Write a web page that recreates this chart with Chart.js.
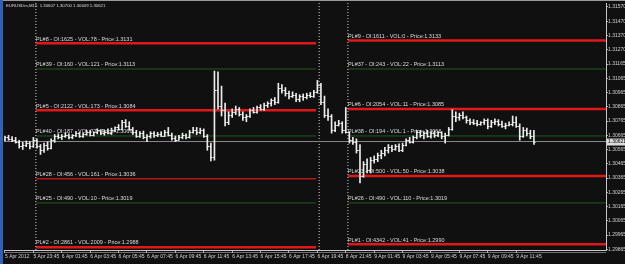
<!DOCTYPE html>
<html>
<head>
<meta charset="utf-8">
<script src="https://cdn.jsdelivr.net/npm/chart.js@4.4.1/dist/chart.umd.min.js"></script>
<style>
  html, body { margin: 0; padding: 0; background: #101010; }
  #wrap { position: relative; width: 625px; height: 264px; }
</style>
</head>
<body>
<div id="wrap"><canvas id="chart" width="625" height="264"></canvas></div>
<script>
// EURUSDm M15 bars
const opens = [
  1.30640,1.30650,1.30640,1.30635,1.30620,1.30590,1.30600,1.30610,1.30590,1.30630,
  1.30590,1.30560,1.30600,1.30575,1.30630,1.30660,1.30650,1.30660,1.30670,1.30650,
  1.30665,1.30680,1.30660,1.30675,1.30690,1.30670,1.30685,1.30700,1.30680,1.30690,
  1.30680,1.30705,1.30720,1.30710,1.30755,1.30730,1.30710,1.30685,1.30660,1.30680,
  1.30650,1.30660,1.30680,1.30665,1.30675,1.30660,1.30690,1.30670,1.30645,1.30635,
  1.30655,1.30670,1.30650,1.30690,1.30700,1.30690,1.30705,1.30660,1.30590,1.30510,
  1.30980,1.30870,1.30840,1.30760,1.30810,1.30830,1.30850,1.30815,1.30790,1.30800,
  1.30840,1.30830,1.30860,1.30850,1.30880,1.30890,1.30910,1.30900,1.31000,1.30980,
  1.30960,1.30940,1.30950,1.30920,1.30940,1.30930,1.30950,1.30940,1.30970,1.31020,
  1.30900,1.30810,1.30800,1.30700,1.30740,1.30750,1.30700,1.30690,1.30630,1.30620,
  1.30560,1.30380,1.30460,1.30420,1.30490,1.30500,1.30530,1.30540,1.30560,1.30580,
  1.30570,1.30590,1.30560,1.30600,1.30630,1.30620,1.30650,1.30690,1.30670,1.30680,
  1.30660,1.30680,1.30670,1.30685,1.30660,1.30670,1.30710,1.30800,1.30790,1.30810,
  1.30795,1.30770,1.30760,1.30750,1.30745,1.30755,1.30770,1.30730,1.30760,1.30765,
  1.30745,1.30730,1.30740,1.30745,1.30760,1.30730,1.30660,1.30700,1.30680,1.30660
];
const highs = [
  1.30660,1.30665,1.30655,1.30650,1.30630,1.30615,1.30625,1.30620,1.30650,1.30640,
  1.30600,1.30610,1.30620,1.30640,1.30670,1.30675,1.30670,1.30680,1.30675,1.30670,
  1.30690,1.30685,1.30680,1.30700,1.30700,1.30690,1.30710,1.30705,1.30700,1.30710,
  1.30715,1.30725,1.30740,1.30770,1.30775,1.30760,1.30720,1.30700,1.30690,1.30695,
  1.30670,1.30690,1.30690,1.30685,1.30690,1.30700,1.30720,1.30680,1.30660,1.30665,
  1.30680,1.30675,1.30700,1.30720,1.30720,1.30715,1.30710,1.30670,1.30610,1.31115,
  1.31110,1.31010,1.30890,1.30830,1.30850,1.30870,1.30860,1.30830,1.30810,1.30850,
  1.30860,1.30870,1.30880,1.30890,1.30900,1.30920,1.30930,1.31030,1.31020,1.31000,
  1.30975,1.30970,1.30960,1.30950,1.30955,1.30960,1.30965,1.30980,1.31050,1.31030,
  1.30940,1.30850,1.30810,1.30760,1.30770,1.30760,1.30860,1.30690,1.30650,1.30640,
  1.30600,1.30480,1.30500,1.30510,1.30520,1.30540,1.30560,1.30580,1.30600,1.30595,
  1.30600,1.30605,1.30610,1.30640,1.30650,1.30660,1.30700,1.30700,1.30690,1.30700,
  1.30690,1.30695,1.30690,1.30690,1.30680,1.30720,1.30845,1.30830,1.30820,1.30830,
  1.30800,1.30780,1.30775,1.30770,1.30760,1.30780,1.30780,1.30770,1.30780,1.30775,
  1.30765,1.30750,1.30760,1.30800,1.30795,1.30745,1.30720,1.30715,1.30700,1.30700
];
const lows = [
  1.30625,1.30630,1.30620,1.30610,1.30575,1.30565,1.30585,1.30570,1.30580,1.30575,
  1.30530,1.30545,1.30560,1.30570,1.30615,1.30640,1.30635,1.30650,1.30640,1.30640,
  1.30655,1.30650,1.30650,1.30665,1.30660,1.30660,1.30675,1.30670,1.30665,1.30675,
  1.30670,1.30690,1.30700,1.30705,1.30720,1.30700,1.30670,1.30650,1.30650,1.30640,
  1.30620,1.30645,1.30650,1.30655,1.30655,1.30655,1.30660,1.30630,1.30620,1.30630,
  1.30640,1.30640,1.30645,1.30680,1.30670,1.30675,1.30650,1.30560,1.30485,1.30490,
  1.30850,1.30800,1.30730,1.30740,1.30790,1.30810,1.30800,1.30770,1.30760,1.30790,
  1.30820,1.30820,1.30840,1.30840,1.30860,1.30870,1.30880,1.30890,1.30960,1.30940,
  1.30920,1.30930,1.30900,1.30900,1.30910,1.30920,1.30930,1.30930,1.30960,1.30880,
  1.30790,1.30770,1.30680,1.30690,1.30730,1.30680,1.30680,1.30610,1.30600,1.30540,
  1.30330,1.30370,1.30400,1.30400,1.30470,1.30480,1.30500,1.30520,1.30540,1.30550,
  1.30560,1.30550,1.30550,1.30590,1.30610,1.30610,1.30640,1.30650,1.30640,1.30650,
  1.30645,1.30650,1.30655,1.30640,1.30610,1.30660,1.30700,1.30760,1.30770,1.30780,
  1.30750,1.30740,1.30740,1.30730,1.30735,1.30740,1.30710,1.30720,1.30740,1.30730,
  1.30720,1.30710,1.30730,1.30730,1.30720,1.30630,1.30650,1.30660,1.30640,1.30600
];
const closes = [
  1.30650,1.30640,1.30635,1.30620,1.30590,1.30600,1.30610,1.30590,1.30630,1.30590,
  1.30560,1.30600,1.30575,1.30630,1.30660,1.30650,1.30660,1.30670,1.30650,1.30665,
  1.30680,1.30660,1.30675,1.30690,1.30670,1.30685,1.30700,1.30680,1.30690,1.30680,
  1.30705,1.30720,1.30710,1.30755,1.30730,1.30710,1.30685,1.30660,1.30680,1.30650,
  1.30660,1.30680,1.30665,1.30675,1.30660,1.30690,1.30670,1.30645,1.30635,1.30655,
  1.30670,1.30650,1.30690,1.30700,1.30690,1.30705,1.30660,1.30590,1.30510,1.30980,
  1.30870,1.30840,1.30760,1.30810,1.30830,1.30850,1.30815,1.30790,1.30800,1.30840,
  1.30830,1.30860,1.30850,1.30880,1.30890,1.30910,1.30900,1.31000,1.30980,1.30960,
  1.30940,1.30950,1.30920,1.30940,1.30930,1.30950,1.30940,1.30970,1.31020,1.30900,
  1.30810,1.30800,1.30700,1.30740,1.30750,1.30700,1.30690,1.30630,1.30620,1.30560,
  1.30380,1.30460,1.30420,1.30490,1.30500,1.30530,1.30540,1.30560,1.30580,1.30570,
  1.30590,1.30560,1.30600,1.30630,1.30620,1.30650,1.30690,1.30670,1.30680,1.30660,
  1.30680,1.30670,1.30685,1.30660,1.30670,1.30710,1.30800,1.30790,1.30810,1.30795,
  1.30770,1.30760,1.30750,1.30745,1.30755,1.30770,1.30730,1.30760,1.30765,1.30745,
  1.30730,1.30740,1.30745,1.30760,1.30730,1.30660,1.30700,1.30680,1.30660,1.30621
];

// time axis (a label every 8 bars)
const timeTickIdx = [0, 8, 16, 24, 32, 40, 48, 56, 64, 72, 80, 88, 96, 104, 112, 120, 128, 136, 144];
const timeLabels = ['5 Apr 2012', '5 Apr 23:45', '6 Apr 01:45', '6 Apr 03:45', '6 Apr 05:45',
  '6 Apr 07:45', '6 Apr 09:45', '6 Apr 11:45', '6 Apr 13:45', '6 Apr 15:45', '6 Apr 17:45',
  '6 Apr 19:45', '8 Apr 21:45', '9 Apr 01:45', '9 Apr 03:45', '9 Apr 05:45', '9 Apr 07:45',
  '9 Apr 09:45', '9 Apr 11:45'];

// price axis
const priceTicks = [1.31565, 1.31465, 1.31365, 1.31265, 1.31165, 1.31065, 1.30965, 1.30865, 1.30765,
  1.30665, 1.30565, 1.30465, 1.30365, 1.30265, 1.30165, 1.30065, 1.29965, 1.29865];
const priceLabels = ['1.31570', '1.31470', '1.31370', '1.31270', '1.31165', '1.31065', '1.30965', '1.30865',
  '1.30765', '1.30665', '1.30565', '1.30465', '1.30365', '1.30265', '1.30165', '1.30065', '1.29965', '1.29865'];

// PL levels, left block (Friday) and right block (Monday)
const leftLevels = [1.3131, 1.3113, 1.3084, 1.3066, 1.3036, 1.3019, 1.2988];
const leftTexts = [
  'PL#8 - OI:1625 - VOL:78 - Price:1.3131',
  'PL#39 - OI:160 - VOL:121 - Price:1.3113',
  'PL#5 - OI:2122 - VOL:173 - Price:1.3084',
  'PL#40 - OI:187 - VOL:77 - Price:1.3066',
  'PL#28 - OI:456 - VOL:161 - Price:1.3036',
  'PL#25 - OI:490 - VOL:10 - Price:1.3019',
  'PL#2 - OI:2861 - VOL:2009 - Price:1.2988'
];
const leftKinds = ['red', 'green', 'red', 'green', 'redThin', 'green', 'red'];
const rightLevels = [1.3133, 1.3113, 1.3085, 1.3066, 1.3038, 1.3019, 1.2990];
const rightTexts = [
  'PL#9 - OI:1611 - VOL:0 - Price:1.3133',
  'PL#37 - OI:243 - VOL:22 - Price:1.3113',
  'PL#6 - OI:2054 - VOL:11 - Price:1.3085',
  'PL#38 - OI:194 - VOL:1 - Price:1.3066',
  'PL#23 - OI:500 - VOL:50 - Price:1.3038',
  'PL#26 - OI:490 - VOL:110 - Price:1.3019',
  'PL#1 - OI:4342 - VOL:41 - Price:1.2990'
];
const rightKinds = ['red', 'green', 'red', 'green', 'red', 'green', 'red'];

const separators = [8.7, 88.5, 96.6];
const bidPrice = 1.30621;
const headerText = 'EURUSDm,M15  1.30607 1.30700 1.30609 1.30621';

// view window
const X_MIN = -0.28, X_MAX = 169.3;
const Y_MIN = 1.29860, Y_MAX = 1.31593;
const LEFT_FROM = 8.7, LEFT_TO = 87.6, RIGHT_FROM = 96.6, RIGHT_TO = X_MAX;

const BAR_COLOR = '#ececec';
const FONT = 'Liberation Sans, Arial, sans-serif';
const styles = {
  red: { color: '#e01818', width: 2.5 },
  redThin: { color: '#b81616', width: 1.5 },
  green: { color: '#1c5e1c', width: 1 }
};

const datasets = [];
datasets.push({
  type: 'bar',
  data: lows.map((l, i) => ({ x: i, y: [l, highs[i]] })),
  backgroundColor: BAR_COLOR,
  barThickness: 1,
  borderWidth: 0,
  order: 0
});
function levelSet(from, to, y, kind) {
  return {
    type: 'line',
    data: [{ x: from, y: y }, { x: to, y: y }],
    borderColor: styles[kind].color,
    borderWidth: styles[kind].width,
    pointRadius: 0,
    order: 2
  };
}
leftLevels.forEach((v, i) => datasets.push(levelSet(LEFT_FROM, LEFT_TO, v, leftKinds[i])));
rightLevels.forEach((v, i) => datasets.push(levelSet(RIGHT_FROM, RIGHT_TO, v, rightKinds[i])));
// bid line
datasets.push({
  type: 'line',
  data: [{ x: X_MIN, y: bidPrice }, { x: X_MAX, y: bidPrice }],
  borderColor: '#8a8a8a', borderWidth: 1, pointRadius: 0, order: 1
});
// dotted separators
separators.forEach(s => datasets.push({
  type: 'line',
  data: [{ x: s, y: Y_MIN }, { x: s, y: Y_MAX }],
  borderColor: '#d0d0d0', borderWidth: 1, borderDash: [1, 2], pointRadius: 0, order: 1
}));

const background = {
  id: 'background',
  beforeDraw(chart) {
    const { ctx, width, height } = chart;
    ctx.save();
    ctx.fillStyle = '#101010';
    ctx.fillRect(0, 0, width, height);
    ctx.fillStyle = '#2f62b8';
    ctx.fillRect(0, 0, 3, height);
    ctx.fillStyle = '#9a9a9a';
    ctx.fillRect(3, 0, width - 3, 1);
    ctx.fillStyle = '#707070';
    ctx.fillRect(4, 252, 602, 1);
    ctx.restore();
  }
};

const ohlcTicks = {
  id: 'ohlcTicks',
  afterDatasetsDraw(chart) {
    const { ctx, chartArea } = chart;
    const y = chart.scales.y;
    const meta = chart.getDatasetMeta(0);
    ctx.save();
    ctx.beginPath();
    ctx.rect(chartArea.left, chartArea.top, chartArea.right - chartArea.left, chartArea.bottom - chartArea.top);
    ctx.clip();
    ctx.strokeStyle = BAR_COLOR;
    ctx.lineWidth = 1;
    ctx.beginPath();
    meta.data.forEach((bar, i) => {
      const yo = Math.round(y.getPixelForValue(opens[i])) + 0.5;
      const yc = Math.round(y.getPixelForValue(closes[i])) + 0.5;
      ctx.moveTo(bar.x - 1.6, yo); ctx.lineTo(bar.x, yo);
      ctx.moveTo(bar.x, yc); ctx.lineTo(bar.x + 1.6, yc);
    });
    ctx.stroke();
    ctx.restore();
  }
};

const texts = {
  id: 'texts',
  afterDraw(chart) {
    const { ctx } = chart;
    const x = chart.scales.x, y = chart.scales.y;
    ctx.save();
    ctx.fillStyle = '#dcdcdc';
    ctx.font = '5.5px ' + FONT;
    ctx.textAlign = 'left';
    ctx.textBaseline = 'bottom';
    leftLevels.forEach((v, i) => ctx.fillText(leftTexts[i], x.getPixelForValue(LEFT_FROM), y.getPixelForValue(v) - 1.5));
    rightLevels.forEach((v, i) => ctx.fillText(rightTexts[i], x.getPixelForValue(RIGHT_FROM), y.getPixelForValue(v) - 1.5));
    // header
    ctx.font = '4.3px ' + FONT;
    ctx.textBaseline = 'middle';
    ctx.fillText(headerText, 6, 6);
    // bid price tag
    const by = y.getPixelForValue(bidPrice);
    ctx.fillStyle = '#dcdcdc';
    ctx.fillRect(607, by - 3, 18, 7);
    ctx.fillStyle = '#000';
    ctx.font = '5px ' + FONT;
    ctx.fillText('1.30621', 608, by + 0.5);
    ctx.restore();
  }
};

new Chart(document.getElementById('chart'), {
  data: { datasets: datasets },
  options: {
    responsive: false,
    animation: false,
    devicePixelRatio: 1,
    layout: { padding: { left: 4, top: 3, right: 0, bottom: 0 } },
    plugins: { legend: { display: false }, tooltip: { enabled: false } },
    scales: {
      x: {
        type: 'linear', position: 'bottom', min: X_MIN, max: X_MAX, offset: false,
        grid: { offset: false, drawOnChartArea: false, drawTicks: true, tickLength: 3, color: '#b0b0b0' },
        border: { color: '#c8c8c8', width: 1 },
        ticks: {
          color: '#d0d0d0', font: { size: 5, family: FONT }, autoSkip: false,
          maxRotation: 0, align: 'start', padding: 1,
          callback: (v) => { const k = timeTickIdx.indexOf(v); return k >= 0 ? timeLabels[k] : ''; }
        },
        afterBuildTicks: s => { s.ticks = timeTickIdx.map(v => ({ value: v })); },
        afterFit: s => { s.height = 14; s.paddingLeft = 0; s.paddingRight = 0; }
      },
      y: {
        type: 'linear', position: 'right', min: Y_MIN, max: Y_MAX,
        grid: { drawOnChartArea: false, drawTicks: true, tickLength: 2, color: '#b0b0b0' },
        border: { color: '#c8c8c8', width: 1 },
        ticks: {
          color: '#d0d0d0', font: { size: 5, family: FONT }, autoSkip: false, padding: 0,
          callback: (v) => { const k = priceTicks.findIndex(t => Math.abs(t - v) < 1e-7); return k >= 0 ? priceLabels[k] : ''; }
        },
        afterBuildTicks: s => { s.ticks = priceTicks.map(v => ({ value: v })); },
        afterFit: s => { s.width = 19; s.paddingTop = 0; s.paddingBottom = 0; }
      }
    }
  },
  plugins: [background, ohlcTicks, texts]
});
</script>
</body>
</html>
